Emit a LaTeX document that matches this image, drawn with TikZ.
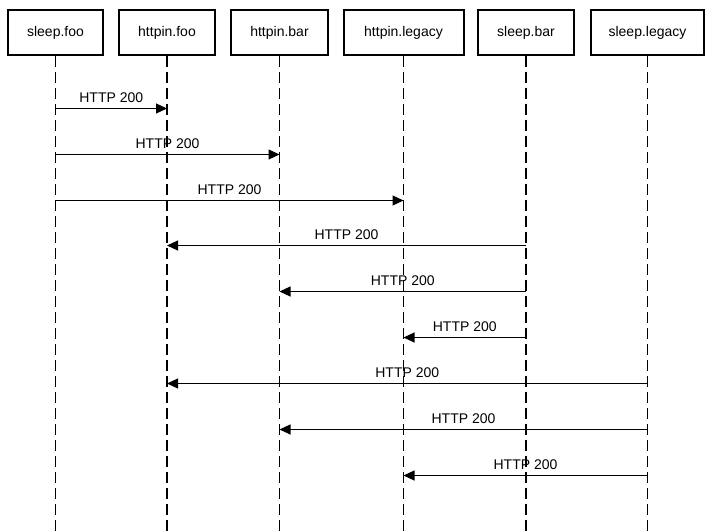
\documentclass[tikz,border=0pt]{standalone}
\usepackage{fontspec}
\setmainfont{Liberation Sans}
\usetikzlibrary{arrows.meta}
\begin{document}
\begin{tikzpicture}[x=1bp,y=-1bp,
  actor/.style={draw, line width=2bp, minimum height=45bp, inner sep=0pt, font=\fontsize{14bp}{16bp}\selectfont},
  life/.style={line width=1.2bp, dash pattern=on 11bp off 5bp},
  msg/.style={line width=1.2bp, -{Triangle[length=11bp,width=10bp]}},
  lbl/.style={anchor=base, yshift=6bp, inner sep=0pt, font=\fontsize{14bp}{16bp}\selectfont}]
\useasboundingbox (0,0) rectangle (715,532);
\node[actor, minimum width=95bp]  (sf) at (55.5,32.5) {sleep.foo};
\node[actor, minimum width=96bp]  (hf) at (167,32.5) {httpin.foo};
\node[actor, minimum width=97bp]  (hb) at (279.5,32.5) {httpin.bar};
\node[actor, minimum width=120bp] (hl) at (403.5,32.5) {httpin.legacy};
\node[actor, minimum width=96bp]  (sb) at (526,32.5) {sleep.bar};
\node[actor, minimum width=113bp] (sl) at (647.5,32.5) {sleep.legacy};
\foreach \n in {sf,hf,hb,hl,sb,sl}{
  \coordinate (\n-end) at (\n.south |- 0,532);
  \draw[life] (\n.south) -- (\n-end);
}
\foreach \i/\a/\b/\y in {1/sf/hf/108.5, 2/sf/hb/154.5, 3/sf/hl/200.5, 4/sb/hf/245.5, 5/sb/hb/291.5, 6/sb/hl/337.5, 7/sl/hf/383.5, 8/sl/hb/429.5, 9/sl/hl/475.5}{
  \coordinate (m\i-s) at (\a.south |- 0,\y);
  \coordinate (m\i-t) at (\b.south |- 0,\y);
  \draw[msg] (m\i-s) -- node[lbl]{HTTP 200} (m\i-t);
}
\end{tikzpicture}
\end{document}
